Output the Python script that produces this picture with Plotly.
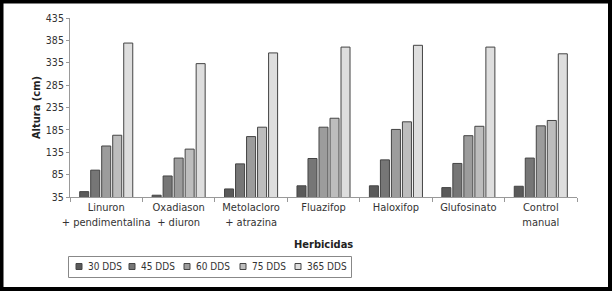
import plotly.graph_objects as go

categories = ["Linuron<br>+ pendimentalina", "Oxadiason<br>+ diuron", "Metolacloro<br>+ atrazina",
              "Fluazifop", "Haloxifop", "Glufosinato", "Control<br>manual"]
series_names = ["30 DDS", "45 DDS", "60 DDS", "75 DDS", "365 DDS"]
v30 = [47, 39, 53, 60, 60, 56, 59]
v45 = [95, 82, 109, 121, 118, 110, 122]
v60 = [149, 122, 170, 191, 186, 172, 194]
v75 = [173, 142, 191, 211, 203, 193, 206]
v365 = [379, 333, 357, 370, 374, 370, 355]
y_ticks = [35, 85, 135, 185, 235, 285, 335, 385, 435]

colors = ["#5a5a5a", "#767676", "#9c9c9c", "#bdbdbd", "#dedede"]
values = [v30, v45, v60, v75, v365]

FONT = "DejaVu Sans Condensed, Liberation Sans Narrow, Roboto, sans-serif"

fig = go.Figure()
for name, vals, c in zip(series_names, values, colors):
    fig.add_trace(go.Bar(x=categories, y=vals, name=name, marker_color=c,
                         marker_line_color="#444444", marker_line_width=1,
                         showlegend=False))

W, H = 612, 291
L, R, T, B = 70, 35, 18, 94
pw, ph = W - L - R, H - T - B


def px(x):
    return (x - L) / pw


def py(y):
    return (H - B - y) / ph


fig.update_layout(
    width=W, height=H,
    margin=dict(l=L, r=R, t=T, b=B, autoexpand=False),
    paper_bgcolor="white", plot_bgcolor="white",
    barmode="group", bargap=0.24, bargroupgap=0.18,
    font=dict(family=FONT, size=11, color="#333333"),
    showlegend=False,
    xaxis=dict(showline=True, linecolor="#999999", linewidth=1, ticks="outside",
               tickson="boundaries", tickcolor="#999999", ticklen=4, tickangle=0,
               automargin=False, tickfont=dict(size=11, color="#333333")),
    yaxis=dict(range=[35, 435], tickvals=y_ticks, showline=True, linecolor="#999999",
               linewidth=1, ticks="outside", tickcolor="#999999", ticklen=3,
               showgrid=False, zeroline=False, automargin=False,
               tickfont=dict(size=10.5, color="#333333"),
               title=dict(text="<b>Altura (cm)</b>", font=dict(size=11, color="#222222"), standoff=3)),
)

fig.add_annotation(xref="paper", yref="paper", x=0.5, y=py(244), yanchor="middle",
                   text="<b>Herbicidas</b>", showarrow=False,
                   font=dict(family=FONT, size=11, color="#222222"))

# legend (manual, compact like the reference)
fig.add_shape(type="rect", xref="paper", yref="paper", x0=px(68.5), x1=px(351.5),
              y0=py(277.5), y1=py(256.5), line=dict(color="#888888", width=1),
              fillcolor="white")
leg_x = [76, 129, 184, 240, 295]
for name, c, lx in zip(series_names, colors, leg_x):
    fig.add_shape(type="rect", xref="paper", yref="paper", x0=px(lx), x1=px(lx + 6),
                  y0=py(269.5), y1=py(263.5), line=dict(color="#444444", width=1),
                  fillcolor=c)
    fig.add_annotation(xref="paper", yref="paper", x=px(lx + 10), y=py(266.5),
                       xanchor="left", yanchor="middle", text=name, showarrow=False,
                       font=dict(family=FONT, size=10, color="#333333"))

# outer black frame
fig.add_shape(type="rect", xref="paper", yref="paper", x0=px(1.5), x1=px(610),
              y0=py(289), y1=py(1.5),
              line=dict(color="black", width=4), fillcolor="rgba(0,0,0,0)", layer="above")

fig.write_html("out.html", config={"displayModeBar": False},
               post_script="document.body.style.margin='0';")
